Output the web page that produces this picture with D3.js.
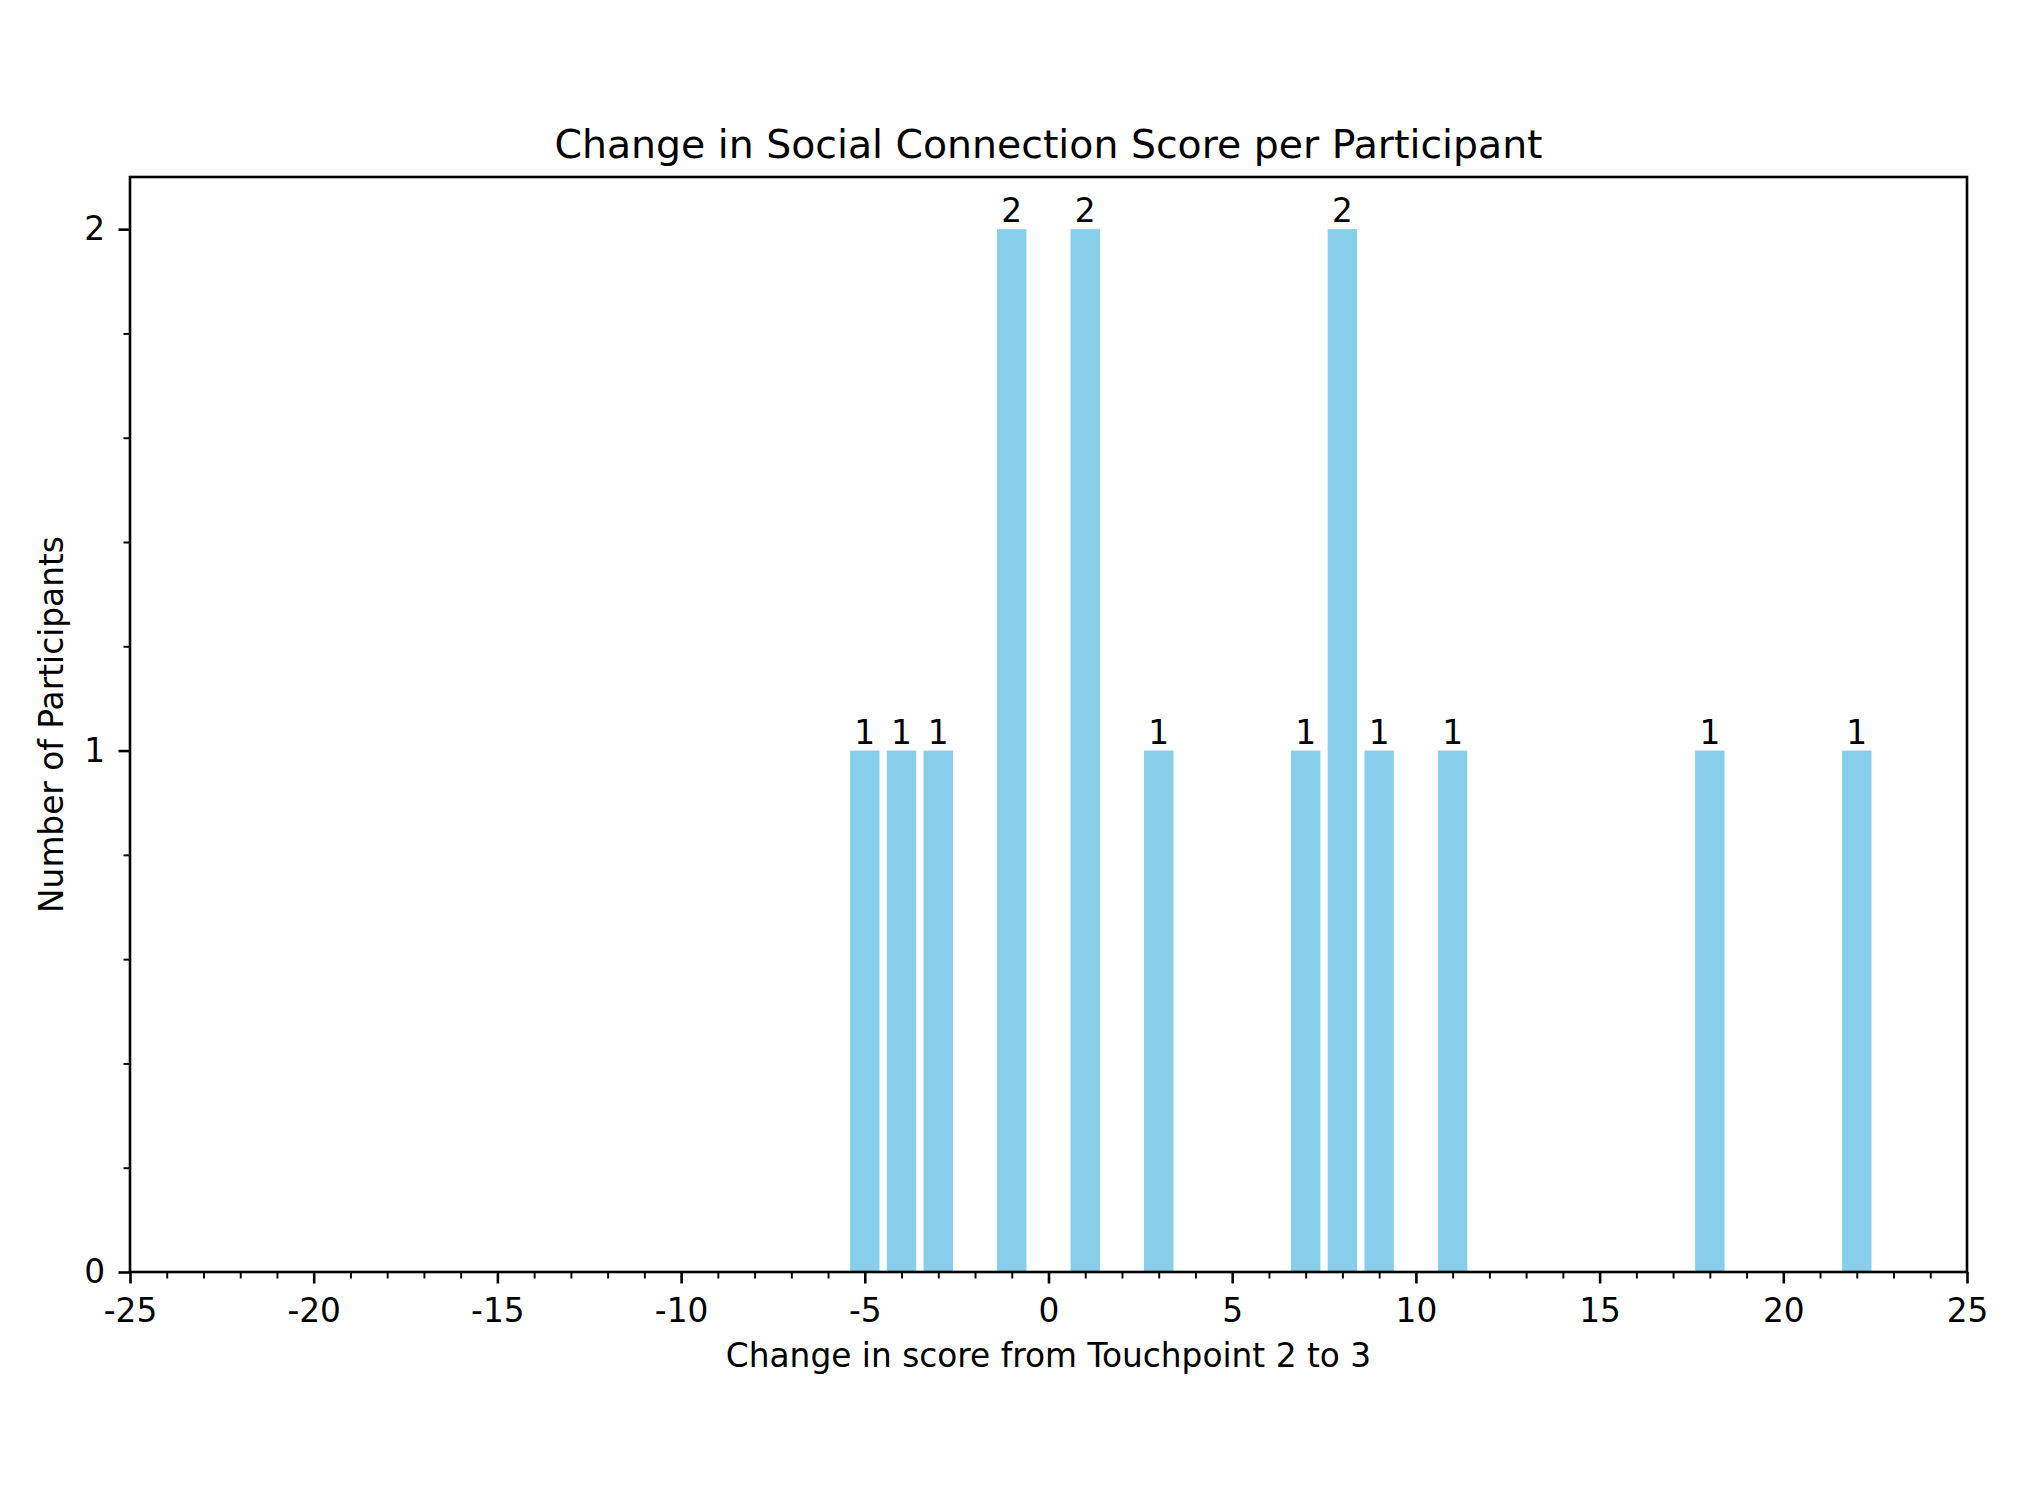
<!DOCTYPE html>
<html>
<head>
<meta charset="utf-8">
<script src="https://cdn.jsdelivr.net/npm/d3@7"></script>
<style>
  html, body { margin: 0; padding: 0; background: #fff; }
  svg { display: block; }
  text { font-family: "DejaVu Sans", sans-serif; fill: #000; }
</style>
</head>
<body>
<svg id="chart" width="2026" height="1501"></svg>
<script>
// ---- data ----
const changes = [-5, -4, -3, -1, 1, 3, 7, 8, 9, 11, 18, 22];
const counts  = [ 1,  1,  1,  2, 2, 1, 1, 2, 1,  1,  1,  1];
const xTickValues = [-25, -20, -15, -10, -5, 0, 5, 10, 15, 20, 25];
const xTickLabels = ["-25", "-20", "-15", "-10", "-5", "0", "5", "10", "15", "20", "25"];
const yTickValues = [0, 1, 2];
const yTickLabels = ["0", "1", "2"];
const titleText = "Change in Social Connection Score per Participant";
const xLabelText = "Change in score from Touchpoint 2 to 3";
const yLabelText = "Number of Participants";

// ---- layout ----
const W = 2026, H = 1501;
const plotL = 130, plotR = 1967, plotT = 177, plotB = 1272;
const fontSize = 32.8, titleSize = 39.4;
const lw = 2.6;
const barWidth = 0.8;
const barColor = "#87CEEB";

const svg = d3.select("#chart");
svg.append("rect").attr("width", W).attr("height", H).attr("fill", "#fff");

const x = d3.scaleLinear().domain([-25, 25]).range([plotL, plotR]);
const y = d3.scaleLinear().domain([0, 2.1]).range([plotB, plotT]);

const data = changes.map((c, i) => ({ c, n: counts[i] }));

// bars
svg.append("g").selectAll("rect").data(data).join("rect")
  .attr("x", d => x(d.c - barWidth / 2))
  .attr("width", d => x(d.c + barWidth / 2) - x(d.c - barWidth / 2))
  .attr("y", d => y(d.n))
  .attr("height", d => y(0) - y(d.n))
  .attr("fill", barColor);

// bar labels
svg.append("g").selectAll("text").data(data).join("text")
  .attr("x", d => x(d.c))
  .attr("y", d => y(d.n) - 7)
  .attr("text-anchor", "middle")
  .style("font-size", fontSize + "px")
  .text(d => d.n);

// minor x ticks
const xMinor = d3.range(-25, 26, 1).filter(v => v % 5 !== 0);
const gxMinor = svg.append("g").attr("transform", `translate(0,${plotB})`)
  .call(d3.axisBottom(x).tickValues(xMinor).tickSize(6.5).tickSizeOuter(0).tickFormat(""));
gxMinor.select(".domain").remove();
gxMinor.selectAll("line").attr("stroke", "#000").attr("stroke-width", lw * 0.75);

// major x ticks
const gx = svg.append("g").attr("transform", `translate(0,${plotB})`)
  .call(d3.axisBottom(x).tickValues(xTickValues).tickSize(11.5).tickSizeOuter(0).tickPadding(15)
    .tickFormat((d, i) => xTickLabels[i]));
gx.select(".domain").remove();
gx.selectAll("line").attr("stroke", "#000").attr("stroke-width", lw);
gx.selectAll("text").style("font-size", fontSize + "px").attr("fill", "#000")
  .style("font-family", '"DejaVu Sans", sans-serif');

// minor y ticks
const yMinor = [0.2, 0.4, 0.6, 0.8, 1.2, 1.4, 1.6, 1.8];
const gyMinor = svg.append("g").attr("transform", `translate(${plotL},0)`)
  .call(d3.axisLeft(y).tickValues(yMinor).tickSize(6.5).tickSizeOuter(0).tickFormat(""));
gyMinor.select(".domain").remove();
gyMinor.selectAll("line").attr("stroke", "#000").attr("stroke-width", lw * 0.75);

// major y ticks
const gy = svg.append("g").attr("transform", `translate(${plotL},0)`)
  .call(d3.axisLeft(y).tickValues(yTickValues).tickSize(11.5).tickSizeOuter(0).tickPadding(13.5)
    .tickFormat((d, i) => yTickLabels[i]));
gy.select(".domain").remove();
gy.selectAll("line").attr("stroke", "#000").attr("stroke-width", lw);
gy.selectAll("text").style("font-size", fontSize + "px").attr("fill", "#000")
  .style("font-family", '"DejaVu Sans", sans-serif');

// spines
svg.append("rect")
  .attr("x", plotL).attr("y", plotT)
  .attr("width", plotR - plotL).attr("height", plotB - plotT)
  .attr("fill", "none").attr("stroke", "#000").attr("stroke-width", lw);

// title
svg.append("text")
  .attr("x", (plotL + plotR) / 2).attr("y", 158)
  .attr("text-anchor", "middle")
  .style("font-size", titleSize + "px")
  .text(titleText);

// x label
svg.append("text")
  .attr("x", (plotL + plotR) / 2).attr("y", 1367)
  .attr("text-anchor", "middle")
  .style("font-size", fontSize + "px")
  .text(xLabelText);

// y label
svg.append("text")
  .attr("transform", `translate(63,${(plotT + plotB) / 2}) rotate(-90)`)
  .attr("text-anchor", "middle")
  .style("font-size", fontSize + "px")
  .text(yLabelText);
</script>
</body>
</html>
